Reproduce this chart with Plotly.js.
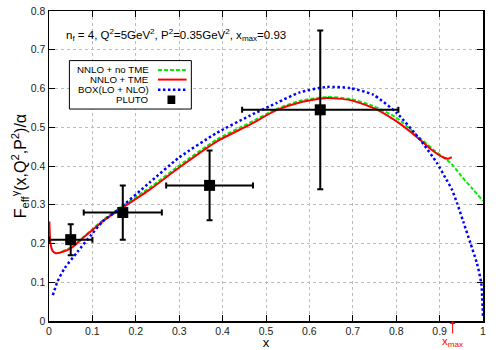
<!DOCTYPE html>
<html>
<head>
<meta charset="utf-8">
<script src="https://cdn.plot.ly/plotly-3.0.1.min.js"></script>
<style>
  html, body { margin: 0; padding: 0; background: #fff; }
  #chart { width: 500px; height: 350px; }
</style>
</head>
<body>
<div id="chart"></div>
<script>
// NNLO + no TME (green dashed)
const xNoTme = [0.03, 0.051, 0.082, 0.1, 0.128, 0.169, 0.232, 0.3, 0.386, 0.463, 0.524, 0.578, 0.64, 0.694, 0.747, 0.801, 0.855, 0.886, 0.928, 0.95, 0.975, 1.0];
const yNoTme = [0.179, 0.19, 0.219, 0.237, 0.264, 0.296, 0.344, 0.401, 0.468, 0.512, 0.547, 0.568, 0.578, 0.573, 0.555, 0.524, 0.472, 0.442, 0.405, 0.374, 0.342, 0.31];

// NNLO + TME (red solid)
const xTme = [0.001, 0.002, 0.004, 0.008, 0.016, 0.03, 0.051, 0.082, 0.1, 0.128, 0.169, 0.232, 0.3, 0.386, 0.463, 0.524, 0.578, 0.64, 0.694, 0.747, 0.801, 0.855, 0.886, 0.909, 0.92, 0.928];
const yTme = [0.257, 0.222, 0.196, 0.181, 0.175, 0.178, 0.188, 0.218, 0.235, 0.261, 0.292, 0.339, 0.396, 0.463, 0.507, 0.544, 0.564, 0.5755, 0.57, 0.55, 0.515, 0.468, 0.438, 0.422, 0.419, 0.423];

// BOX(LO + NLO) (blue dotted)
const xBox = [0.0088, 0.02, 0.036, 0.066, 0.097, 0.124, 0.159, 0.232, 0.3, 0.386, 0.463, 0.524, 0.578, 0.64, 0.694, 0.747, 0.801, 0.855, 0.894, 0.913, 0.928, 0.94, 0.955, 0.971, 0.986, 0.996, 1.0];
const yBox = [0.067, 0.103, 0.136, 0.179, 0.222, 0.257, 0.287, 0.3575, 0.422, 0.485, 0.53, 0.5625, 0.59, 0.604, 0.601, 0.584, 0.537, 0.468, 0.4076, 0.37, 0.34, 0.305, 0.255, 0.201, 0.149, 0.0975, 0.008];

// PLUTO data
const xPluto = [0.05, 0.17, 0.37, 0.625];
const yPluto = [0.21, 0.28, 0.35, 0.545];
const exPluto = [0.05, 0.09, 0.1, 0.18];
const eyPluto = [0.04, 0.07, 0.09, 0.205];

const legendNames = ["NNLO + no TME", "NNLO + TME", "BOX(LO + NLO)", "PLUTO"];
const xMaxValue = 0.93;

const FONT = "Liberation Sans, Arial, sans-serif";
const GREEN = "#00ee00";
const RED = "#ff0000";
const BLUE = "#0000ff";

const data = [
  {
    type: "scatter", mode: "lines", x: xNoTme, y: yNoTme,
    line: { color: GREEN, width: 2, dash: "4px,2px", shape: "spline", smoothing: 0.6 },
    hoverinfo: "skip"
  },
  {
    type: "scatter", mode: "lines", x: xTme, y: yTme,
    line: { color: RED, width: 2, shape: "spline", smoothing: 0.6 },
    hoverinfo: "skip"
  },
  {
    type: "scatter", mode: "lines", x: xBox, y: yBox,
    line: { color: BLUE, width: 2.5, dash: "2.5px,2.5px", shape: "spline", smoothing: 0.6 },
    hoverinfo: "skip"
  },
  {
    type: "scatter", mode: "markers", x: xPluto, y: yPluto,
    marker: { symbol: "square", size: 11, color: "#000" },
    error_x: { type: "data", array: exPluto, color: "#000", thickness: 2, width: 3 },
    error_y: { type: "data", array: eyPluto, color: "#000", thickness: 2, width: 3 }
  }
];

// hand-made legend in gnuplot style (text left, sample right)
const legY = [0.648, 0.623, 0.597, 0.571];
const shapes = [
  { type: "rect", xref: "x", yref: "y", x0: 0.047, x1: 0.328, y0: 0.547, y1: 0.672,
    line: { color: "#000", width: 1 }, fillcolor: "#fff", layer: "above" },
  { type: "line", xref: "x", yref: "y", x0: 0.251, x1: 0.317, y0: legY[0], y1: legY[0],
    line: { color: GREEN, width: 2, dash: "4px,2px" }, layer: "above" },
  { type: "line", xref: "x", yref: "y", x0: 0.251, x1: 0.317, y0: legY[1], y1: legY[1],
    line: { color: RED, width: 2 }, layer: "above" },
  { type: "line", xref: "x", yref: "y", x0: 0.251, x1: 0.317, y0: legY[2], y1: legY[2],
    line: { color: BLUE, width: 2.5, dash: "2.5px,2.5px" }, layer: "above" },
  { type: "rect", xref: "x", yref: "y", x0: 0.273, x1: 0.291, y0: legY[3] - 0.011, y1: legY[3] + 0.011,
    line: { width: 0 }, fillcolor: "#000", layer: "above" }
];

const annotations = legendNames.map((name, i) => ({
  xref: "x", yref: "y", x: 0.236, y: legY[i], text: name, showarrow: false,
  xanchor: "right", yanchor: "middle", font: { family: FONT, size: 9.7, color: "#000" }
}));

annotations.push({
  xref: "x", yref: "y", x: 0.034, y: 0.739, xanchor: "left", yanchor: "middle", showarrow: false,
  text: "n<sub>f</sub> = 4, Q<sup>2</sup>=5GeV<sup>2</sup>, P<sup>2</sup>=0.35GeV<sup>2</sup>, x<sub>max</sub>=0.93",
  font: { family: FONT, size: 11.5, color: "#000" }
});

annotations.push({
  xref: "paper", yref: "paper", x: -0.066, y: 0.5, xanchor: "center", yanchor: "middle",
  showarrow: false, textangle: -90,
  text: "F<sub>eff</sub><sup>γ</sup>(x,Q<sup>2</sup>,P<sup>2</sup>)/α",
  font: { family: FONT, size: 16, color: "#000" }
});

annotations.push({
  xref: "x", yref: "y", x: xMaxValue, y: 0, ax: 0, ay: 21,
  text: "x<sub>max</sub>", showarrow: true, arrowhead: 1, arrowsize: 1, arrowwidth: 1,
  arrowcolor: RED, font: { family: FONT, size: 11.5, color: RED }
});

const axisCommon = {
  showline: true, linecolor: "#000", linewidth: 1.5, mirror: "allticks",
  ticks: "inside", ticklen: 6, tickcolor: "#000", tickwidth: 1,
  showgrid: true, gridcolor: "#bbb", griddash: "dot", gridwidth: 1,
  zeroline: false, tickfont: { family: FONT, size: 10.5, color: "#222" }
};

const layout = {
  width: 500, height: 350,
  margin: { l: 49, r: 17, t: 11, b: 29 },
  paper_bgcolor: "#fff", plot_bgcolor: "#fff",
  showlegend: false,
  xaxis: Object.assign({}, axisCommon, {
    range: [0, 1], dtick: 0.1, tick0: 0,
    title: { text: "x", font: { family: FONT, size: 13, color: "#000" }, standoff: 2 }
  }),
  yaxis: Object.assign({}, axisCommon, {
    range: [0, 0.8], dtick: 0.1, tick0: 0
  }),
  shapes: shapes,
  annotations: annotations
};

Plotly.newPlot("chart", data, layout, { staticPlot: true });
</script>
</body>
</html>
